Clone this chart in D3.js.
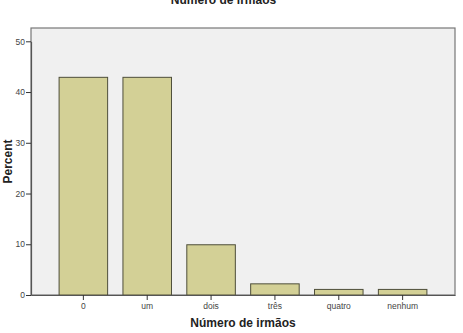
<!DOCTYPE html>
<html>
<head>
<meta charset="utf-8">
<script src="https://cdn.jsdelivr.net/npm/d3@7"></script>
<style>
  body { margin: 0; background: #fff; }
  svg { display: block; font-family: Arial, "Liberation Sans", sans-serif; }
</style>
</head>
<body>
<div id="chart"></div>
<script>
const categories = ["0", "um", "dois", "três", "quatro", "nenhum"];
const percents = [42.9, 42.9, 9.9, 2.2, 1.1, 1.1];
const yTicks = [0, 10, 20, 30, 40, 50];

const W = 463, H = 333;
const plot = { left: 31, right: 455, top: 28, bottom: 295 };

const svg = d3.select("#chart").append("svg")
    .attr("width", W)
    .attr("height", H);

const x = d3.scaleBand()
    .domain(categories)
    .range([plot.left, plot.right])
    .paddingInner(0.24)
    .paddingOuter(0.44);

const y = d3.scaleLinear()
    .domain([0, 50])
    .range([plot.bottom, 41.3]);

// plot background + frame
svg.append("rect")
    .attr("x", plot.left)
    .attr("y", plot.top)
    .attr("width", plot.right - plot.left)
    .attr("height", plot.bottom - plot.top)
    .attr("fill", "#f0f0f0")
    .attr("stroke", "#777")
    .attr("stroke-width", 1.2);

// bars
svg.selectAll(".bar")
    .data(percents)
    .join("rect")
    .attr("class", "bar")
    .attr("x", (d, i) => x(categories[i]))
    .attr("y", d => y(d))
    .attr("width", x.bandwidth())
    .attr("height", d => y(0) - y(d))
    .attr("fill", "#d3d096")
    .attr("stroke", "#4e4e3a")
    .attr("stroke-width", 1);

// axes
const yAxis = d3.axisLeft(y).tickValues(yTicks).tickSize(5).tickSizeOuter(0).tickPadding(1);
const gy = svg.append("g")
    .attr("transform", `translate(${plot.left},0)`)
    .call(yAxis);

const xAxis = d3.axisBottom(x).tickSize(5).tickSizeOuter(0).tickPadding(3);
const gx = svg.append("g")
    .attr("transform", `translate(0,${plot.bottom})`)
    .call(xAxis);

[gx, gy].forEach(g => {
    g.select(".domain").attr("stroke", "#555").attr("stroke-width", 1.2);
    g.selectAll(".tick line").attr("stroke", "#333");
    g.selectAll(".tick text")
        .attr("fill", "#444")
        .style("font-size", "8.5px")
        .style("font-family", "Arial, 'Liberation Sans', sans-serif");
});

// titles
svg.append("text")
    .attr("x", 223.5)
    .attr("y", 4)
    .attr("text-anchor", "middle")
    .style("font-size", "12px")
    .style("font-weight", "bold")
    .attr("fill", "#222")
    .text("Número de irmãos");

svg.append("text")
    .attr("x", 243)
    .attr("y", 327)
    .attr("text-anchor", "middle")
    .style("font-size", "12px")
    .style("font-weight", "bold")
    .attr("fill", "#222")
    .text("Número de irmãos");

svg.append("text")
    .attr("transform", `translate(12,${(plot.top + plot.bottom) / 2}) rotate(-90)`)
    .attr("text-anchor", "middle")
    .style("font-size", "12px")
    .style("font-weight", "bold")
    .attr("fill", "#222")
    .text("Percent");
</script>
</body>
</html>
